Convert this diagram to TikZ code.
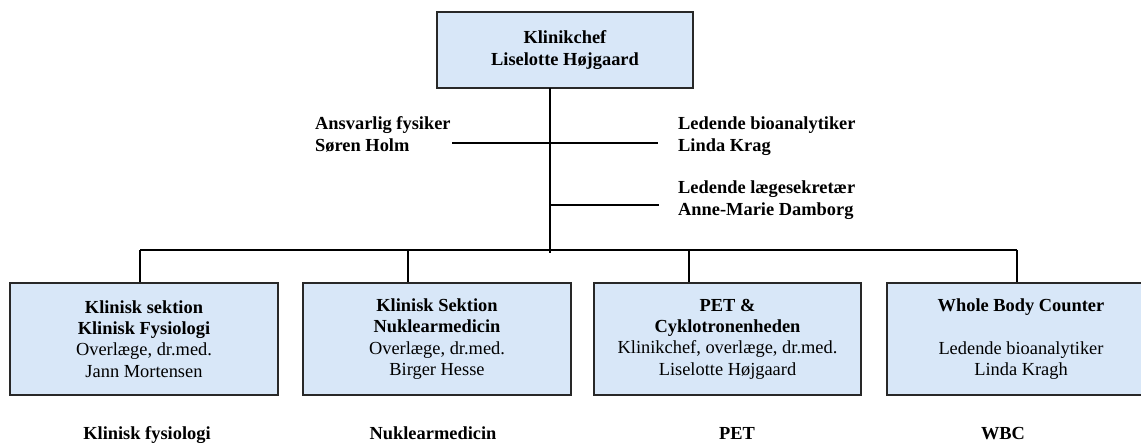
\documentclass[tikz,border=0pt]{standalone}
\usepackage{fontspec}
\setmainfont{Liberation Serif}
\definecolor{boxfill}{RGB}{216,231,248}
\definecolor{boxline}{RGB}{40,40,40}
\begin{document}
\begin{tikzpicture}[x=1pt,y=-1pt,
  txt/.style={font=\fontsize{18.4}{21.3}\selectfont},
  orgbox/.style={txt,draw=boxline,line width=1.8pt,fill=boxfill,align=center,inner sep=0pt},
  conn/.style={line width=1.6pt,black},
  side/.style={txt,anchor=base west,inner sep=0pt},
  foot/.style={txt,anchor=base,inner sep=0pt,font=\fontsize{18.4}{21.3}\selectfont\bfseries}]
\useasboundingbox (0,0) rectangle (1141,443);
\clip (0,0) rectangle (1141,443);
\fill[white] (0,0) rectangle (1141,443);

% top box
\node[orgbox,minimum width=256pt,minimum height=76pt] (top) at (565,50)
  {\textbf{Klinikchef}\\\textbf{Liselotte Højgaard}};

% staff labels
\node[side] (fys) at (315,130) {\bfseries\begin{tabular}[t]{@{}l@{}}Ansvarlig fysiker\\Søren Holm\end{tabular}};
\node[side] (bio) at (678,130) {\bfseries\begin{tabular}[t]{@{}l@{}}Ledende bioanalytiker\\Linda Krag\end{tabular}};
\node[side] (sek) at (678,194) {\bfseries\begin{tabular}[t]{@{}l@{}}Ledende lægesekretær\\Anne-Marie Damborg\end{tabular}};

% section boxes
\node[orgbox,minimum width=268pt,minimum height=112pt] (b1) at (144,339)
  {\textbf{Klinisk sektion}\\\textbf{Klinisk Fysiologi}\\Overlæge, dr.med.\\Jann Mortensen};
\node[orgbox,minimum width=268pt,minimum height=112pt] (b2) at (437,339)
  {\textbf{Klinisk Sektion}\\\textbf{Nuklearmedicin}\\Overlæge, dr.med.\\Birger Hesse};
\node[orgbox,minimum width=267pt,minimum height=112pt] (b3) at (727.5,339)
  {\textbf{PET \&}\\\textbf{Cyklotronenheden}\\Klinikchef, overlæge, dr.med.\\Liselotte Højgaard};
\node[orgbox,minimum width=268pt,minimum height=112pt] (b4) at (1021,339)
  {\textbf{Whole Body Counter}\\\strut\\Ledende bioanalytiker\\Linda Kragh};

% footer labels
\node[foot] (f1) at (147,440) {Klinisk fysiologi};
\node[foot] (f2) at (433,440) {Nuklearmedicin};
\node[foot] (f3) at (737,440) {PET};
\node[foot] (f4) at (1003,440) {WBC};

% connector points
\coordinate (trunkTop) at (550,88);
\coordinate (trunkEnd) at (550,253);
\coordinate (sL) at (452,143);
\coordinate (sR) at (658,143);
\coordinate (kJ) at (550,205);
\coordinate (kR) at (659,205);
\coordinate (d1) at (140,250);
\coordinate (d2) at (408,250);
\coordinate (d3) at (689,250);
\coordinate (d4) at (1017,250);

\draw[conn] (trunkTop) -- (trunkEnd);
\draw[conn] (sL) -- (sR);
\draw[conn] (kJ) -- (kR);
\draw[conn] (d1) -- (d4);
\draw[conn] (d1) -- (d1 |- b1.north);
\draw[conn] (d2) -- (d2 |- b2.north);
\draw[conn] (d3) -- (d3 |- b3.north);
\draw[conn] (d4) -- (d4 |- b4.north);
\end{tikzpicture}
\end{document}
